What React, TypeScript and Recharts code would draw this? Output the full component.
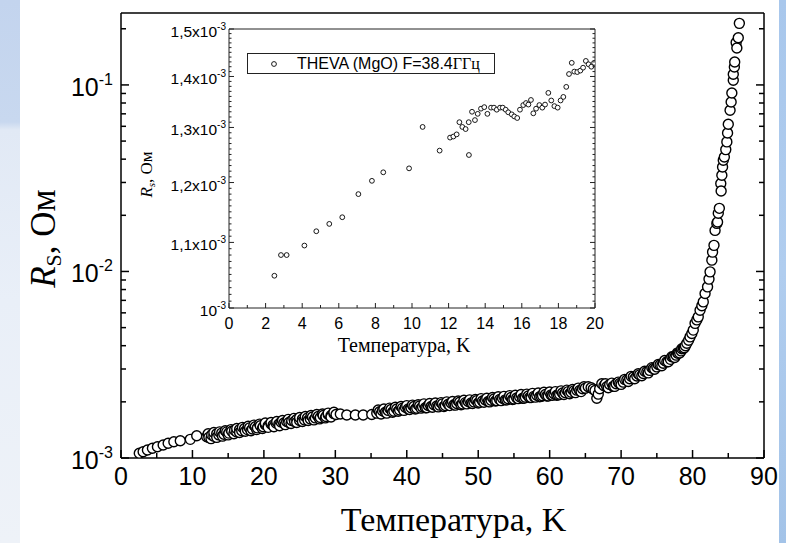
import { ScatterChart, Scatter, XAxis, YAxis, Label } from 'recharts';

// MARK: - Data (temperature in K, surface resistance in mOhm)

const mainTemps = [
    2.56, 3.1, 3.7, 4.4, 5.1, 5.9, 6.6, 7.4, 8.3, 9.7, 10.6,
    12.0, 12.3, 12.7, 13.0, 13.4, 13.7, 14.1, 14.4, 14.8, 15.1, 15.5, 15.9, 16.2, 16.6, 16.9, 17.3, 17.7,
    18.0, 18.4, 18.8, 19.1, 19.5, 19.9, 20.2, 20.6, 21.0, 21.3, 21.7, 22.1, 22.4, 22.8, 23.2, 23.5, 23.9,
    24.3, 24.6, 25.0, 25.4, 25.7, 26.1, 26.5, 26.8, 27.2, 27.6, 27.9, 28.3, 28.7, 29.0, 29.4, 29.8, 30.1,
    30.7, 31.6, 32.8, 33.9, 35.1,
    35.8, 36.2, 36.6, 37.0, 37.4, 37.8, 38.2, 38.6, 39.0, 39.4, 39.8, 40.2, 40.6, 41.0, 41.4, 41.8, 42.2,
    42.6, 43.0, 43.4, 43.8, 44.2, 44.6, 45.0, 45.4, 45.8, 46.2, 46.6, 47.0, 47.4, 47.8, 48.2, 48.6, 49.0,
    49.4, 49.8, 50.2, 50.6, 51.0, 51.4, 51.8, 52.2, 52.6, 53.0, 53.4, 53.8, 54.2, 54.6, 55.0, 55.4, 55.8,
    56.2, 56.6, 57.0, 57.4, 57.8, 58.2, 58.6, 59.0, 59.4, 59.8, 60.2, 60.6, 61.0, 61.4, 61.8,
    62.2, 62.6, 63.0, 63.4, 63.8, 64.2, 64.6, 65.0, 65.4, 65.8, 66.1, 66.35, 66.6, 66.8, 67.0, 67.3, 67.6,
    68.0, 68.4, 68.9, 69.3, 69.8, 70.3, 70.8, 71.2, 71.7, 72.2, 72.6, 73.1, 73.6, 74.0, 74.5, 75.0, 75.45,
    75.9, 76.4, 76.9, 77.3, 77.7, 78.0, 78.4, 78.7, 79.0, 79.2, 79.45, 79.65, 79.9, 80.1, 80.35, 80.6, 80.8,
    81.05, 81.3, 81.5, 81.75, 82.1, 82.3, 82.45, 82.7, 82.8, 83.0, 83.15, 83.4, 83.5, 83.6, 83.75, 84.0,
    83.95, 84.1, 84.2, 84.3, 84.45, 84.65, 84.8, 84.9, 85.0, 85.25, 85.4, 85.5, 85.7, 85.7, 85.85, 85.9,
    86.2, 86.1, 86.4, 86.55,
];
const mainRsMilli = [
    1.060, 1.081, 1.104, 1.127, 1.150, 1.174, 1.199, 1.223, 1.238, 1.259, 1.316,
    1.30, 1.29, 1.33, 1.31, 1.35, 1.33, 1.36, 1.34, 1.38, 1.36, 1.39, 1.41, 1.38, 1.42, 1.40, 1.44, 1.42,
    1.45, 1.43, 1.47, 1.45, 1.49, 1.47, 1.51, 1.49, 1.52, 1.50, 1.54, 1.52, 1.56, 1.54, 1.57, 1.55, 1.59,
    1.57, 1.61, 1.59, 1.62, 1.60, 1.64, 1.62, 1.66, 1.64, 1.67, 1.65, 1.69, 1.67, 1.71, 1.69, 1.73, 1.71,
    1.72, 1.70, 1.70, 1.70, 1.71,
    1.74, 1.77, 1.79, 1.76, 1.80, 1.82, 1.78, 1.83, 1.81, 1.85, 1.87, 1.83, 1.86, 1.89, 1.85, 1.90, 1.88,
    1.86, 1.91, 1.89, 1.93, 1.90, 1.92, 1.95, 1.91, 1.94, 1.97, 1.93, 1.96, 1.99, 1.95, 1.98, 2.01, 1.97,
    2.00, 2.03, 1.99, 2.02, 2.05, 2.01, 2.04, 2.07, 2.03, 2.06, 2.09, 2.05, 2.08, 2.11, 2.07, 2.10, 2.13,
    2.09, 2.12, 2.15, 2.11, 2.14, 2.17, 2.13, 2.16, 2.19, 2.15, 2.18, 2.21, 2.17, 2.20, 2.23,
    2.24, 2.27, 2.25, 2.29, 2.31, 2.30, 2.35, 2.37, 2.41, 2.38, 2.34, 2.30, 2.09, 2.20, 2.35, 2.50, 2.44,
    2.41, 2.48, 2.42, 2.50, 2.51, 2.55, 2.62, 2.66, 2.72, 2.75, 2.79, 2.84, 2.90, 2.95, 3.02, 3.08, 3.15,
    3.22, 3.28, 3.38, 3.49, 3.56, 3.64, 3.75, 3.87, 4.00, 4.12, 4.28, 4.46, 4.65, 4.85, 5.27, 5.50, 5.71,
    6.20, 6.55, 6.87, 7.62, 8.27, 9.10, 9.95, 11.5, 12.7, 13.8, 16.6, 18.1, 18.4, 20.5, 21.8, 27.0,
    29.6, 32.8, 36.3, 39.5, 41.1, 45.0, 49.5, 55.2, 61.5, 73.1, 81.0, 90.5, 105.9, 114.0, 124.7, 132.6,
    157.7, 169.0, 179.0, 213.8,
];

// second pass through the dense part of the band (wider scatter at the band edges)
const mainTemps2 = [
    12.2, 12.6, 13.0, 13.4, 13.8, 14.2, 14.6, 15.0, 15.4, 15.8, 16.2, 16.6, 17.0, 17.4, 17.8, 18.2, 18.6,
    19.0, 19.4, 19.8, 20.2, 20.6, 21.0, 21.4, 21.8, 22.2, 22.6, 23.0, 23.4, 23.8, 24.2, 24.6, 25.0, 25.4,
    25.8, 26.2, 26.6, 27.0, 27.4, 27.8, 28.2, 28.6, 29.0, 29.4, 29.8,
    36.0, 36.4, 36.8, 37.2, 37.6, 38.0, 38.4, 38.8, 39.2, 39.6, 40.0, 40.4, 40.8, 41.2, 41.6, 42.0, 42.4,
    42.8, 43.2, 43.6, 44.0, 44.4, 44.8, 45.2, 45.6, 46.0, 46.4, 46.8, 47.2, 47.6, 48.0, 48.4, 48.8, 49.2,
    49.6, 50.0, 50.4, 50.8, 51.2, 51.6, 52.0, 52.4, 52.8, 53.2, 53.6, 54.0, 54.4, 54.8, 55.2, 55.6, 56.0,
    56.4, 56.8, 57.2, 57.6, 58.0, 58.4, 58.8, 59.2, 59.6, 60.0, 60.4, 60.8, 61.2, 61.6, 62.0, 62.4, 62.8,
    63.2, 63.6, 64.0, 64.4, 64.8,
    67.8, 68.2, 68.7, 69.1, 69.6, 70.0, 70.5, 71.0, 71.4, 71.9, 72.4, 72.9, 73.3, 73.8, 74.3, 74.7, 75.2,
    75.7, 76.1, 76.6, 77.1, 77.5, 77.9, 78.2, 78.5, 78.85,
];
const mainRs2Milli = [
    1.35, 1.27, 1.37, 1.29, 1.38, 1.31, 1.40, 1.33, 1.42, 1.35, 1.44, 1.37, 1.46, 1.39, 1.48, 1.40, 1.50,
    1.42, 1.52, 1.44, 1.54, 1.46, 1.55, 1.47, 1.57, 1.49, 1.59, 1.51, 1.61, 1.53, 1.63, 1.55, 1.65, 1.57,
    1.67, 1.59, 1.69, 1.60, 1.71, 1.62, 1.72, 1.64, 1.74, 1.66, 1.76,
    1.81, 1.72, 1.83, 1.74, 1.85, 1.76, 1.87, 1.78, 1.89, 1.80, 1.91, 1.82, 1.92, 1.83, 1.93, 1.85, 1.95,
    1.86, 1.96, 1.87, 1.97, 1.88, 1.98, 1.89, 2.00, 1.91, 2.01, 1.92, 2.02, 1.93, 2.04, 1.95, 2.05, 1.96,
    2.06, 1.97, 2.08, 1.99, 2.09, 2.00, 2.11, 2.02, 2.13, 2.03, 2.14, 2.05, 2.16, 2.06, 2.17, 2.08, 2.19,
    2.09, 2.20, 2.11, 2.22, 2.12, 2.23, 2.14, 2.25, 2.15, 2.26, 2.17, 2.27, 2.18, 2.29, 2.19, 2.31, 2.21,
    2.33, 2.24, 2.37, 2.27, 2.41,
    2.50, 2.38, 2.52, 2.42, 2.55, 2.48, 2.64, 2.57, 2.74, 2.66, 2.83, 2.76, 2.92, 2.86, 3.05, 2.99, 3.17,
    3.12, 3.33, 3.28, 3.49, 3.46, 3.66, 3.66, 3.85, 3.90,
];

const insetTemps = [
    2.48, 2.84, 3.15, 4.12, 4.77, 5.48, 6.19, 7.07, 7.81, 8.43, 9.84, 10.58, 11.51,
    12.08, 12.26, 12.44, 12.59, 12.75, 12.93, 13.10, 13.11, 13.28, 13.44, 13.59, 13.77, 13.95, 14.12,
    14.32, 14.48, 14.63, 14.81, 14.96, 15.12, 15.26, 15.45, 15.59, 15.75, 15.90, 16.08, 16.23, 16.36,
    16.50, 16.63, 16.78, 16.96, 17.12, 17.27, 17.45, 17.61, 17.78, 17.96, 18.12, 18.27, 18.43, 18.58,
    18.73, 18.87, 19.03, 19.20, 19.35, 19.50, 19.65, 19.80, 19.95,
];
const insetRsMilli = [
    1.048, 1.080, 1.080, 1.095, 1.118, 1.130, 1.141, 1.180, 1.203, 1.218, 1.225, 1.301, 1.257,
    1.281, 1.283, 1.287, 1.310, 1.301, 1.297, 1.310, 1.249, 1.330, 1.314, 1.326, 1.336, 1.339, 1.326,
    1.338, 1.338, 1.334, 1.338, 1.338, 1.334, 1.329, 1.325, 1.321, 1.318, 1.334, 1.343, 1.347, 1.344,
    1.353, 1.327, 1.336, 1.343, 1.338, 1.344, 1.367, 1.352, 1.341, 1.338, 1.352, 1.359, 1.379, 1.405,
    1.428, 1.410, 1.409, 1.412, 1.418, 1.432, 1.425, 1.420, 1.428,
];

// tick values and labels
const mainXTicks = [0, 5, 10, 15, 20, 25, 30, 35, 40, 45, 50, 55, 60, 65, 70, 75, 80, 85, 90];
const mainYDecades = [0.001, 0.01, 0.1];
const mainYTop = 0.243;
const insetXTicks = [0, 1, 2, 3, 4, 5, 6, 7, 8, 9, 10, 11, 12, 13, 14, 15, 16, 17, 18, 19, 20];
const insetYMajor = [0.001, 0.0011, 0.0012, 0.0013, 0.0014, 0.0015];
const insetYLabels = ['10', '1,1x10', '1,2x10', '1,3x10', '1,4x10', '1,5x10'];
const legendName = 'THEVA (MgO) F=38.4';
const legendUnit = 'ГГц';

const SANS = '"Liberation Sans", Arial, sans-serif';
const SERIF = '"Liberation Serif", "Times New Roman", serif';

// both passes merged in temperature order, so the circles overlap like in the measurement plot
const mainData = [
    ...mainTemps.map((t, i) => ({ t, r: mainRsMilli[i] * 1e-3 })),
    ...mainTemps2.map((t, i) => ({ t, r: mainRs2Milli[i] * 1e-3 })),
].sort((a, b) => a.t - b.t);
const insetData = insetTemps.map((t, i) => ({ t, r: insetRsMilli[i] * 1e-3 }));

// minor ticks of the log axes (1..9 in each decade)
const mainYTicks = mainYDecades.flatMap((d) => [1, 2, 3, 4, 5, 6, 7, 8, 9].map((k) => k * d)).filter((v) => v <= mainYTop);
const insetYTicks = Array.from({ length: 51 }, (_, i) => (1 + i * 0.01) * 1e-3);

const isDecade = (v: number) => {
    const e = Math.log10(v);
    return Math.abs(e - Math.round(e)) < 1e-6;
};
const insetMajorIndex = (v: number) => insetYMajor.findIndex((m) => Math.abs(m - v) < 1e-9);

// MARK: - Tick renderers (ticks point inward, like the original Origin plot)

const MainBottomTick = ({ x, y, payload }: any) => {
    const major = payload.value % 10 === 0;
    return (
        <g>
            <line x1={x} y1={y} x2={x} y2={y - (major ? 8 : 5)} stroke="#000" strokeWidth={1.5} />
            {major && (
                <text x={x} y={y + 27} textAnchor="middle" fontSize={25} fontFamily={SANS} fill="#000">
                    {payload.value}
                </text>
            )}
        </g>
    );
};

const MainTopTick = ({ x, y, payload }: any) => {
    const major = payload.value % 10 === 0;
    return <line x1={x} y1={y} x2={x} y2={y + (major ? 8 : 5)} stroke="#000" strokeWidth={1.5} />;
};

const MainLeftTick = ({ x, y, payload }: any) => {
    const major = isDecade(payload.value);
    return (
        <g>
            <line x1={x} y1={y} x2={x + (major ? 8 : 5)} y2={y} stroke="#000" strokeWidth={1.5} />
            {major && (
                <text x={x - 8} y={y + 11} textAnchor="end" fontSize={25} fontFamily={SANS} fill="#000">
                    10<tspan dy={-11} fontSize={16}>{`${Math.round(Math.log10(payload.value))}`}</tspan>
                </text>
            )}
        </g>
    );
};

const MainRightTick = ({ x, y, payload }: any) => {
    const major = isDecade(payload.value);
    return <line x1={x} y1={y} x2={x - (major ? 8 : 5)} y2={y} stroke="#000" strokeWidth={1.5} />;
};

const InsetBottomTick = ({ x, y, payload }: any) => {
    const major = payload.value % 2 === 0;
    return (
        <g>
            <line x1={x} y1={y} x2={x} y2={y - (major ? 5 : 3)} stroke="#222" strokeWidth={1} />
            {major && (
                <text x={x} y={y + 21} textAnchor="middle" fontSize={16} fontFamily={SANS} fill="#000">
                    {payload.value}
                </text>
            )}
        </g>
    );
};

const InsetTopTick = ({ x, y, payload }: any) => {
    const major = payload.value % 2 === 0;
    return <line x1={x} y1={y} x2={x} y2={y + (major ? 5 : 3)} stroke="#222" strokeWidth={1} />;
};

const InsetLeftTick = ({ x, y, payload }: any) => {
    const idx = insetMajorIndex(payload.value);
    const major = idx >= 0;
    return (
        <g>
            <line x1={x} y1={y} x2={x + (major ? 5 : 2.5)} y2={y} stroke="#222" strokeWidth={1} />
            {major && (
                <text x={x - 3} y={y + 8} textAnchor="end" fontSize={15.5} fontFamily={SANS} fill="#000">
                    {insetYLabels[idx]}<tspan dy={-7} fontSize={10}>-3</tspan>
                </text>
            )}
        </g>
    );
};

const InsetRightTick = ({ x, y, payload }: any) => {
    const major = insetMajorIndex(payload.value) >= 0;
    return <line x1={x} y1={y} x2={x - (major ? 5 : 2.5)} y2={y} stroke="#222" strokeWidth={1} />;
};

// MARK: - Axis titles

const MainXTitle = ({ viewBox }: any) => (
    <text x={viewBox.x + viewBox.width / 2 + 11} y={viewBox.y + 73} textAnchor="middle" fontSize={34} fontFamily={SERIF} fill="#000">
        Температура, K
    </text>
);

const MainYTitle = ({ viewBox }: any) => {
    const cx = viewBox.x - 6;
    const cy = viewBox.y + viewBox.height / 2 + 3;
    return (
        <text x={cx} y={cy} transform={`rotate(-90, ${cx}, ${cy})`} textAnchor="middle" fontSize={35} fontFamily={SERIF} fill="#000">
            <tspan fontStyle="italic">R</tspan>
            <tspan fontSize={22} dy={6}>S</tspan>
            <tspan dy={-6}>,  Ом</tspan>
        </text>
    );
};

const InsetXTitle = ({ viewBox }: any) => (
    <text x={viewBox.x + viewBox.width / 2 - 8} y={viewBox.y + 44} textAnchor="middle" fontSize={20} fontFamily={SERIF} fill="#000">
        Температура, K
    </text>
);

const InsetYTitle = ({ viewBox }: any) => {
    const cx = viewBox.x + 12;
    const cy = viewBox.y + viewBox.height / 2 + 6;
    return (
        <text x={cx} y={cy} transform={`rotate(-90, ${cx}, ${cy})`} textAnchor="middle" fontSize={17} fontFamily={SERIF} fill="#000">
            <tspan fontStyle="italic">R</tspan>
            <tspan fontStyle="italic" fontSize={11} dy={3}>s</tspan>
            <tspan dy={-3}>, Ом</tspan>
        </text>
    );
};

// MARK: - Markers

const MainDot = (props: any) => (
    <circle cx={props.cx} cy={props.cy} r={5} fill="#fff" stroke="#000" strokeWidth={1.4} />
);

const InsetDot = (props: any) => (
    <circle cx={props.cx} cy={props.cy} r={2.4} fill="#fff" stroke="#000" strokeWidth={0.9} />
);

const App = () => {
    const mainAxisLine = { stroke: '#000', strokeWidth: 1.5 };
    const insetAxisLine = { stroke: '#222', strokeWidth: 1 };

    return (
        <div style={{ position: 'fixed', left: 0, top: 0, width: 786, height: 543, background: '#fff', overflow: 'hidden' }}>

            {/* Main log plot */}
            <div style={{ position: 'absolute', left: 0, top: 0 }}>
                <ScatterChart width={786} height={543} margin={{ top: 12, right: 21, bottom: 84, left: 61 }}>
                    <XAxis
                        xAxisId="bottom" dataKey="t" type="number" domain={[0, 90]} ticks={mainXTicks} interval={0}
                        height={1} tickSize={0} tickMargin={0} tickLine={false} axisLine={mainAxisLine}
                        tick={<MainBottomTick />} allowDataOverflow
                    >
                        <Label content={<MainXTitle />} />
                    </XAxis>
                    <XAxis
                        xAxisId="top" orientation="top" type="number" domain={[0, 90]} ticks={mainXTicks} interval={0}
                        height={1} tickSize={0} tickMargin={0} tickLine={false} axisLine={mainAxisLine}
                        tick={<MainTopTick />} allowDataOverflow
                    />
                    <YAxis
                        yAxisId="left" dataKey="r" type="number" scale="log" domain={[0.001, mainYTop]} ticks={mainYTicks}
                        interval={0} width={60} tickSize={0} tickMargin={0} tickLine={false} axisLine={mainAxisLine}
                        tick={<MainLeftTick />} allowDataOverflow
                    >
                        <Label content={<MainYTitle />} />
                    </YAxis>
                    <YAxis
                        yAxisId="right" orientation="right" type="number" scale="log" domain={[0.001, mainYTop]} ticks={mainYTicks}
                        interval={0} width={1} tickSize={0} tickMargin={0} tickLine={false} axisLine={mainAxisLine}
                        tick={<MainRightTick />} allowDataOverflow
                    />
                    <Scatter
                        data={mainData} xAxisId="bottom" yAxisId="left"
                        shape={MainDot} isAnimationActive={false}
                    />
                </ScatterChart>
            </div>

            {/* Inset: low temperature part, linear temperature axis */}
            <div style={{ position: 'absolute', left: 100, top: 10 }}>
                <ScatterChart width={510} height={360} margin={{ top: 18, right: 14, bottom: 61, left: 40 }}>
                    <XAxis
                        xAxisId="bottom" dataKey="t" type="number" domain={[0, 20]} ticks={insetXTicks} interval={0}
                        height={1} tickSize={0} tickMargin={0} tickLine={false} axisLine={insetAxisLine}
                        tick={<InsetBottomTick />} allowDataOverflow
                    >
                        <Label content={<InsetXTitle />} />
                    </XAxis>
                    <XAxis
                        xAxisId="top" orientation="top" type="number" domain={[0, 20]} ticks={insetXTicks} interval={0}
                        height={1} tickSize={0} tickMargin={0} tickLine={false} axisLine={insetAxisLine}
                        tick={<InsetTopTick />} allowDataOverflow
                    />
                    <YAxis
                        yAxisId="left" dataKey="r" type="number" scale="log" domain={[0.001, 0.0015]} ticks={insetYTicks}
                        interval={0} width={89} tickSize={0} tickMargin={0} tickLine={false} axisLine={insetAxisLine}
                        tick={<InsetLeftTick />} allowDataOverflow
                    >
                        <Label content={<InsetYTitle />} />
                    </YAxis>
                    <YAxis
                        yAxisId="right" orientation="right" type="number" scale="log" domain={[0.001, 0.0015]} ticks={insetYTicks}
                        interval={0} width={1} tickSize={0} tickMargin={0} tickLine={false} axisLine={insetAxisLine}
                        tick={<InsetRightTick />} allowDataOverflow
                    />
                    <Scatter
                        data={insetData} xAxisId="bottom" yAxisId="left"
                        shape={InsetDot} isAnimationActive={false}
                    />
                </ScatterChart>
            </div>

            {/* Inset legend */}
            <div
                style={{
                    position: 'absolute', left: 247, top: 53, width: 248, height: 21,
                    boxSizing: 'border-box', border: '1px solid #222', background: '#fff',
                    display: 'flex', alignItems: 'center', whiteSpace: 'nowrap',
                }}
            >
                <svg width={49} height={19} style={{ flex: 'none' }}>
                    <circle cx={26} cy={10} r={2.4} fill="#fff" stroke="#000" strokeWidth={0.9} />
                </svg>
                <span style={{ fontFamily: SANS, fontSize: 16, lineHeight: '19px' }}>{legendName}</span>
                <span style={{ fontFamily: SERIF, fontSize: 16, lineHeight: '19px' }}>{legendUnit}</span>
            </div>

            {/* Slide background strips at the edges */}
            <div
                style={{
                    position: 'absolute', left: 0, top: 0, width: 20, height: 543,
                    background: 'linear-gradient(to bottom, #c3d4ee 0px, #c8d8ef 122px, #e1e9f5 130px, #e9eff8 300px, #eef2f8 543px)',
                }}
            />
            <div
                style={{
                    position: 'absolute', left: 779, top: 0, width: 7, height: 543,
                    background: 'linear-gradient(to bottom, #a8c7ec 0%, #b0cdef 50%, #a3c3e8 100%)',
                }}
            />
        </div>
    );
};

export default App;
